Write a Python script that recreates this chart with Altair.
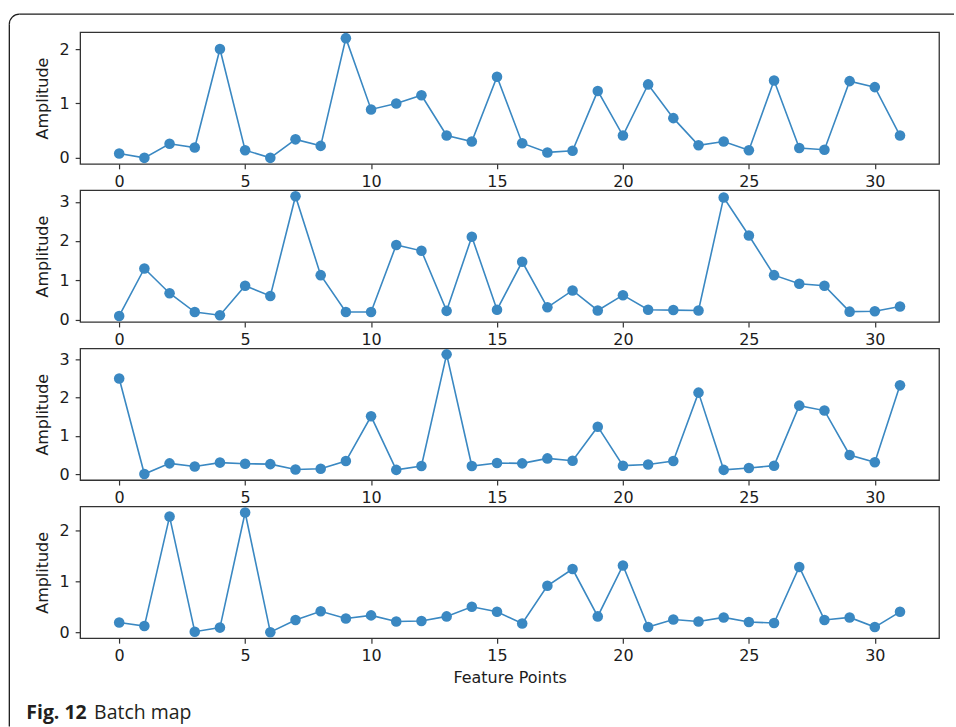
import altair as alt
import pandas as pd

# Feature point index shared by all four batches
feature_points = list(range(32))

batch_1 = [0.08, 0.00, 0.26, 0.19, 2.00, 0.14, 0.00, 0.34, 0.22, 2.20,
           0.89, 1.00, 1.15, 0.41, 0.30, 1.49, 0.27, 0.10, 0.13, 1.23,
           0.41, 1.35, 0.73, 0.23, 0.30, 0.14, 1.42, 0.18, 0.15, 1.41,
           1.30, 0.41]
batch_2 = [0.09, 1.30, 0.67, 0.19, 0.11, 0.86, 0.60, 3.14, 1.13, 0.19,
           0.19, 1.90, 1.75, 0.22, 2.11, 0.25, 1.47, 0.31, 0.74, 0.23,
           0.62, 0.25, 0.24, 0.23, 3.11, 2.14, 1.13, 0.91, 0.86, 0.20,
           0.21, 0.33]
batch_3 = [2.50, 0.00, 0.28, 0.20, 0.30, 0.27, 0.26, 0.12, 0.14, 0.34,
           1.51, 0.11, 0.21, 3.13, 0.21, 0.29, 0.28, 0.41, 0.35, 1.24,
           0.22, 0.25, 0.34, 2.13, 0.11, 0.16, 0.22, 1.79, 1.66, 0.50,
           0.31, 2.32]
batch_4 = [0.19, 0.12, 2.27, 0.01, 0.09, 2.35, 0.00, 0.24, 0.41, 0.27,
           0.33, 0.21, 0.22, 0.31, 0.50, 0.40, 0.17, 0.91, 1.24, 0.31,
           1.31, 0.10, 0.25, 0.21, 0.29, 0.20, 0.18, 1.28, 0.24, 0.29,
           0.10, 0.40]

x_ticks = [0, 5, 10, 15, 20, 25, 30]
y_ticks = [[0, 1, 2], [0, 1, 2, 3], [0, 1, 2, 3], [0, 1, 2]]

x_title = "Feature Points"
y_title = "Amplitude"
caption_bold = "Fig. 12"
caption_text = "Batch map"

BLUE = "#3a88c2"
INK = "#1c1c1c"
FONT = "DejaVu Sans"
PANEL_W = 861
PANEL_H = 132


def padded(lo, hi, frac=0.05):
    m = (hi - lo) * frac
    return [lo - m, hi + m]


x_domain = padded(min(feature_points), max(feature_points))
one_row = pd.DataFrame({"k": [0]})


def panel(values, ticks, first=False, last=False):
    df = pd.DataFrame({"point": feature_points, "amp": values})
    x_axis = dict(values=x_ticks, labelPadding=4.5, titlePadding=6)
    x_axis["title"] = x_title if last else ""
    x = alt.X("point:Q",
              scale=alt.Scale(domain=x_domain, nice=False, zero=False),
              axis=alt.Axis(**x_axis))
    y = alt.Y("amp:Q",
              scale=alt.Scale(domain=padded(min(values), max(values)),
                              nice=False, zero=False),
              axis=alt.Axis(values=ticks, title=y_title, labelPadding=6,
                            titlePadding=9))
    base = alt.Chart(df)
    line = base.mark_line(color=BLUE, strokeWidth=1.6).encode(x=x, y=y)
    dots = base.mark_circle(color=BLUE, size=112, opacity=1).encode(x=x, y=y)
    layers = [line, dots]

    if first:
        # rounded figure frame: top edge, left edge and the corner between
        deco = alt.Chart(one_row)
        top = deco.mark_rule(color=INK, strokeWidth=1.3).encode(
            x=alt.value(-61), x2=alt.value(876), y=alt.value(-18))
        left = deco.mark_rule(color=INK, strokeWidth=1.3).encode(
            x=alt.value(-71), y=alt.value(-8), y2=alt.value(696))
        corner = deco.mark_arc(color=INK, radius=10.65, radius2=9.35,
                               theta=4.712389, theta2=6.283185).encode(
            x=alt.value(-61), y=alt.value(-8))
        layers += [top, left, corner]

    if last:
        cap = alt.Chart(one_row)
        bold = cap.mark_text(text=caption_bold, font="Open Sans",
                             fontWeight="bold", fontSize=19.5, color="#231f20",
                             align="left", baseline="alphabetic").encode(
            x=alt.value(-54), y=alt.value(213.5))
        rest = cap.mark_text(text=caption_text, font="Open Sans",
                             fontSize=19.5, color="#231f20",
                             align="left", baseline="alphabetic").encode(
            x=alt.value(14), y=alt.value(213.5))
        layers += [bold, rest]

    return alt.layer(*layers).properties(width=PANEL_W, height=PANEL_H)


chart = alt.vconcat(
    panel(batch_1, y_ticks[0], first=True),
    panel(batch_2, y_ticks[1]),
    panel(batch_3, y_ticks[2]),
    panel(batch_4, y_ticks[3], last=True),
    spacing=26.5,
    bounds="flush",
).properties(
    padding={"left": 7.35, "top": 11.35, "right": 0, "bottom": 0},
    background="white",
).configure_view(
    stroke="#333333", strokeWidth=1.3
).configure_axis(
    grid=False,
    domain=False,
    tickColor="#333333",
    tickWidth=1.2,
    tickSize=5,
    labelFont=FONT,
    labelFontSize=16,
    labelColor=INK,
    titleFont=FONT,
    titleFontSize=16,
    titleFontWeight="normal",
    titleColor=INK,
)

chart.save("out.html", embed_options={"renderer": "svg", "actions": False})
